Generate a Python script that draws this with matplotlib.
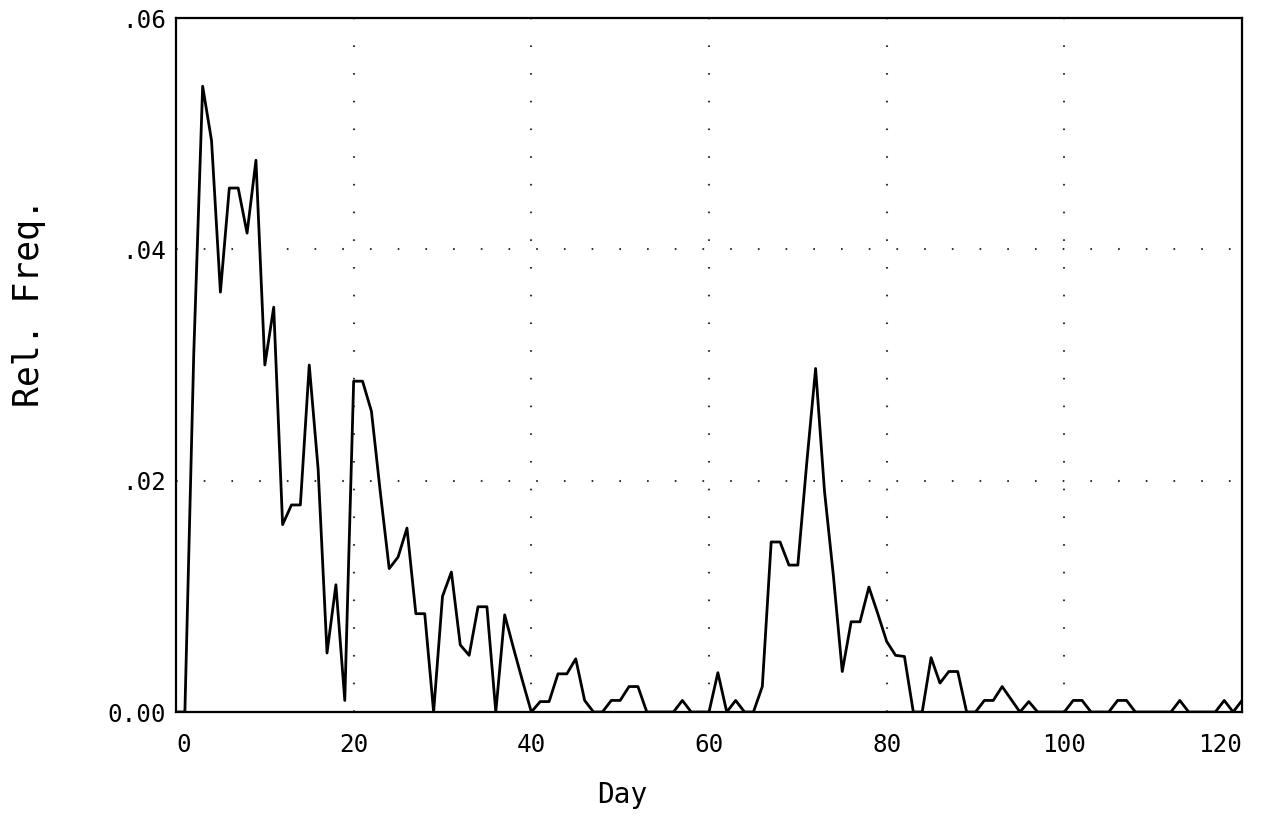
import matplotlib
matplotlib.use("Agg")
import matplotlib.pyplot as plt

# ---- data ----
days = list(range(0, 121))
rel_freq = [
    0.0, 0.0, 0.031, 0.0541, 0.0494, 0.0363, 0.0453, 0.0453, 0.0414, 0.0477,   # 0-9
    0.0300, 0.0350, 0.0162, 0.0179, 0.0179, 0.0300, 0.0210, 0.0051, 0.0110, 0.0010,  # 10-19
    0.0286, 0.0286, 0.0260, 0.0190, 0.0124, 0.0134, 0.0159, 0.0085, 0.0085, 0.0,  # 20-29
    0.0100, 0.0121, 0.0058, 0.0049, 0.0091, 0.0091, 0.0, 0.0084, 0.0055, 0.0027,  # 30-39
    0.0, 0.0009, 0.0009, 0.0033, 0.0033, 0.0046, 0.0010, 0.0, 0.0, 0.0010,      # 40-49
    0.0010, 0.0022, 0.0022, 0.0, 0.0, 0.0, 0.0, 0.0010, 0.0, 0.0,               # 50-59
    0.0, 0.0034, 0.0, 0.0010, 0.0, 0.0, 0.0022, 0.0147, 0.0147, 0.0127,         # 60-69
    0.0127, 0.0215, 0.0297, 0.0191, 0.0118, 0.0035, 0.0078, 0.0078, 0.0108, 0.0085,  # 70-79
    0.0061, 0.0049, 0.0048, 0.0, 0.0, 0.0047, 0.0025, 0.0035, 0.0035, 0.0,      # 80-89
    0.0, 0.0010, 0.0010, 0.0022, 0.0011, 0.0, 0.0009, 0.0, 0.0, 0.0,            # 90-99
    0.0, 0.0010, 0.0010, 0.0, 0.0, 0.0, 0.0010, 0.0010, 0.0, 0.0,               # 100-109
    0.0, 0.0, 0.0, 0.0010, 0.0, 0.0, 0.0, 0.0, 0.0010, 0.0,                     # 110-119
    0.0010,                                                                     # 120
]

x_ticks = [0, 20, 40, 60, 80, 100, 120]
x_tick_labels = ["0", "20", "40", "60", "80", "100", "120"]
y_ticks = [0.0, 0.02, 0.04, 0.06]
y_tick_labels = ["0.00", ".02", ".04", ".06"]
x_grid = [20, 40, 60, 80, 100]
y_grid = [0.02, 0.04]

FONT = "DejaVu Sans Mono"

fig = plt.figure(figsize=(12.66, 8.31), dpi=100)
ax = fig.add_axes([176 / 1266, 1 - 712 / 831, (1242 - 176) / 1266, (712 - 18) / 831])

dot_style = (0, (0.8, 12.5))
for gx in x_grid:
    ax.axvline(gx, color="#333333", lw=1.5, linestyle=dot_style, zorder=1)
for gy in y_grid:
    ax.axhline(gy, color="#333333", lw=1.5, linestyle=dot_style, zorder=1)

ax.plot(days, rel_freq, color="black", lw=2.0, zorder=3)

ax.set_xlim(0, 120)
ax.set_ylim(0, 0.06)
ax.set_xticks(x_ticks)
ax.set_xticklabels(x_tick_labels, family=FONT, fontsize=17.5)
ax.set_yticks(y_ticks)
ax.set_yticklabels(y_tick_labels, family=FONT, fontsize=17.5)
ax.tick_params(axis="both", length=0)
ax.tick_params(axis="x", pad=15)
ax.tick_params(axis="y", pad=7)

xl = ax.get_xticklabels()
xl[0].set_horizontalalignment("left")
xl[-1].set_horizontalalignment("right")

for sp in ax.spines.values():
    sp.set_linewidth(1.6)
    sp.set_color("black")

ax.set_xlabel("Day", family=FONT, fontsize=20)
ax.xaxis.set_label_coords((622 - 176) / 1066, -0.1)
ax.set_ylabel("Rel. Freq.", family=FONT, fontsize=25)
ax.yaxis.set_label_coords(-0.122, 0.59)

fig.savefig("out.png", dpi=100, facecolor="white")
